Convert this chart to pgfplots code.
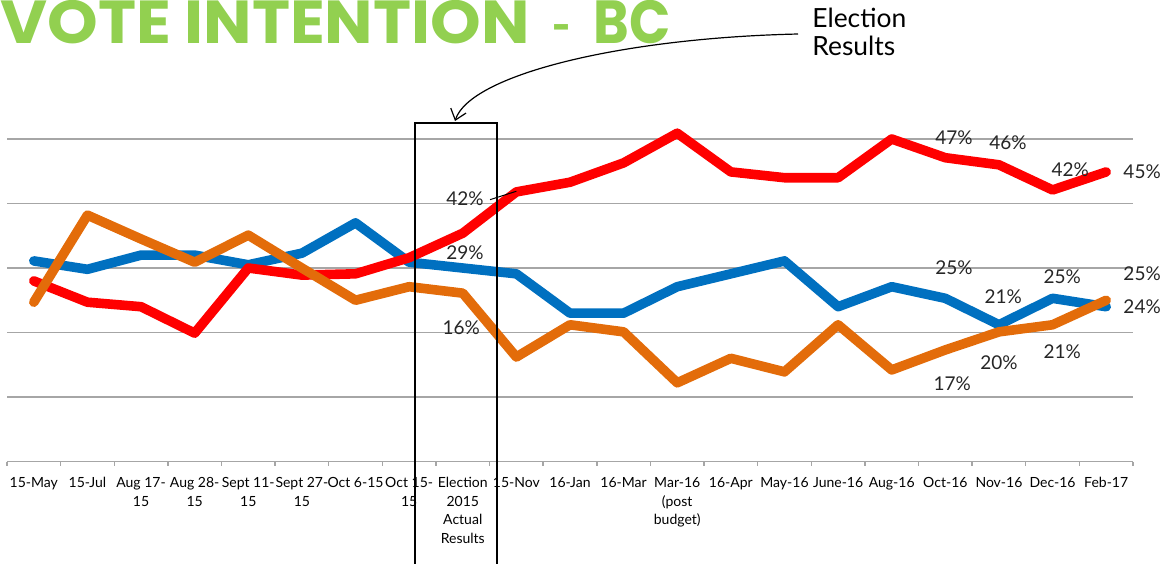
\documentclass[border=0pt]{standalone}
\usepackage{pgfplots}
\pgfplotsset{compat=1.18}
\usepackage{pgfplotstable}
\usepackage{graphicx}
\usepackage{fontspec}
\setmainfont{Lato}
\newfontfamily\titlefont{Poppins}
\usetikzlibrary{arrows.meta}

\definecolor{cred}{RGB}{255,0,0}
\definecolor{cblue}{RGB}{0,112,192}
\definecolor{corange}{RGB}{227,108,10}
\definecolor{cgreen}{RGB}{146,208,80}
\definecolor{cgrid}{RGB}{166,166,166}
\definecolor{ctext}{RGB}{38,38,38}

\pgfplotstableread{
x red blue orange
0 28.0 31.1 24.7
1 24.7 29.8 38.2
2 24.0 32.0 34.5
3 19.9 32.0 30.9
4 30.0 30.5 35.1
5 28.9 32.3 30.0
6 29.1 37.0 25.0
7 31.6 30.9 27.1
8 35.4 30.0 26.1
9 41.8 29.1 16.2
10 43.3 23.0 21.2
11 46.3 23.0 20.1
12 50.9 27.1 12.2
13 44.9 29.1 16.0
14 44.0 31.1 13.9
15 44.0 24.0 21.2
16 50.0 27.1 14.2
17 47.1 25.3 17.3
18 46.0 21.2 20.1
19 42.1 25.3 21.2
20 44.9 24.0 25.0
}\datatable

\begin{document}
\begin{tikzpicture}
\useasboundingbox (0pt,0pt) rectangle (583.5pt,-281.5pt);
\clip (0pt,0pt) rectangle (583.5pt,-281.5pt);
% title
\node[anchor=base west, inner sep=0pt, text=cgreen] at (0pt,-21.9pt)
  {\resizebox{264.5pt}{21.6pt}{\titlefont\bfseries VOTE INTENTION}};
\node[anchor=base, inner sep=0pt, text=cgreen] at (280.5pt,-21.9pt)
  {\resizebox{10pt}{!}{\fontsize{30}{30}\selectfont\bfseries -}};
\node[anchor=base west, inner sep=0pt, text=cgreen] at (296.5pt,-21.9pt)
  {\resizebox{38.5pt}{21.6pt}{\titlefont\bfseries BC}};
% annotation text
\node[anchor=base west, inner sep=0pt, text=black, font=\fontsize{13.2}{14}\selectfont] at (406pt,-13.5pt) {Election};
\node[anchor=base west, inner sep=0pt, text=black, font=\fontsize{13.2}{14}\selectfont] at (406pt,-27.5pt) {Results};
\draw[line width=0.6pt, -{Straight Barb[length=5pt,width=8pt]}]
  (399pt,-17pt) .. controls (310pt,-19pt) and (235pt,-37.5pt) .. (227.5pt,-60.5pt);

\begin{axis}[
  at={(3.5pt,-230.75pt)}, anchor=south west,
  scale only axis, width=563pt, height=170.93pt,
  xmin=-0.5, xmax=20.5, ymin=0, ymax=53,
  clip=false,
  axis x line*=bottom, axis y line*=left,
  x axis line style={draw=cgrid, line width=0.9pt},
  y axis line style={draw=none},
  ytick={10,20,30,40,50}, yticklabels={}, ymajorgrids,
  major y tick style={draw=none},
  grid style={draw=cgrid, line width=0.9pt},
  xtick={0,...,20},
  xticklabels={15-May,15-Jul,Aug 17-\\15,Aug 28-\\15,Sept 11-\\15,Sept 27-\\15,Oct 6-15,Oct 15-\\15,Election\\2015\\Actual\\Results,15-Nov,16-Jan,16-Mar,Mar-16\\(post\\budget),16-Apr,May-16,June-16,Aug-16,Oct-16,Nov-16,Dec-16,Feb-17},
  major tick length=0pt,
  minor xtick={-0.5,0.5,...,20.5},
  minor tick length=2.2pt,
  tick align=outside,
  minor tick style={draw=cgrid, line width=0.7pt},
  x tick label style={font=\fontsize{7}{9.2}\selectfont, align=center, text=black, yshift=-4.5pt},
]
\addplot[cblue, line width=4.8pt, line join=round, line cap=round] table[x=x,y=blue]{\datatable};
\addplot[cred, line width=4.8pt, line join=round, line cap=round] table[x=x,y=red]{\datatable};
\addplot[corange, line width=4.8pt, line join=round, line cap=round] table[x=x,y=orange]{\datatable};

% election box
\draw[black, line width=0.8pt] (axis cs:7.11,-22) -- (axis cs:7.11,52.5) -- (axis cs:8.64,52.5) -- (axis cs:8.64,-22);
\draw[black, line width=0.5pt] (axis cs:8.51,40.6) -- (axis cs:9.0,41.9);

\begin{scope}[every node/.style={font=\fontsize{9.5}{11}\selectfont, text=ctext, inner sep=0pt}]
\node at (axis cs:8.04,40.7) {42\%};
\node at (axis cs:8.04,32.3) {29\%};
\node at (axis cs:7.97,20.8) {16\%};
\node at (axis cs:17.16,50.2) {47\%};
\node at (axis cs:18.17,49.5) {46\%};
\node at (axis cs:19.33,45.3) {42\%};
\node at (axis cs:20.67,45.0) {45\%};
\node at (axis cs:17.16,30.0) {25\%};
\node at (axis cs:18.08,25.5) {21\%};
\node at (axis cs:19.18,28.6) {25\%};
\node at (axis cs:20.67,29.1) {25\%};
\node at (axis cs:20.67,24.0) {24\%};
\node at (axis cs:18.0,15.3) {20\%};
\node at (axis cs:19.18,17.1) {21\%};
\node at (axis cs:17.13,12.0) {17\%};
\end{scope}
\end{axis}
\end{tikzpicture}
\end{document}
